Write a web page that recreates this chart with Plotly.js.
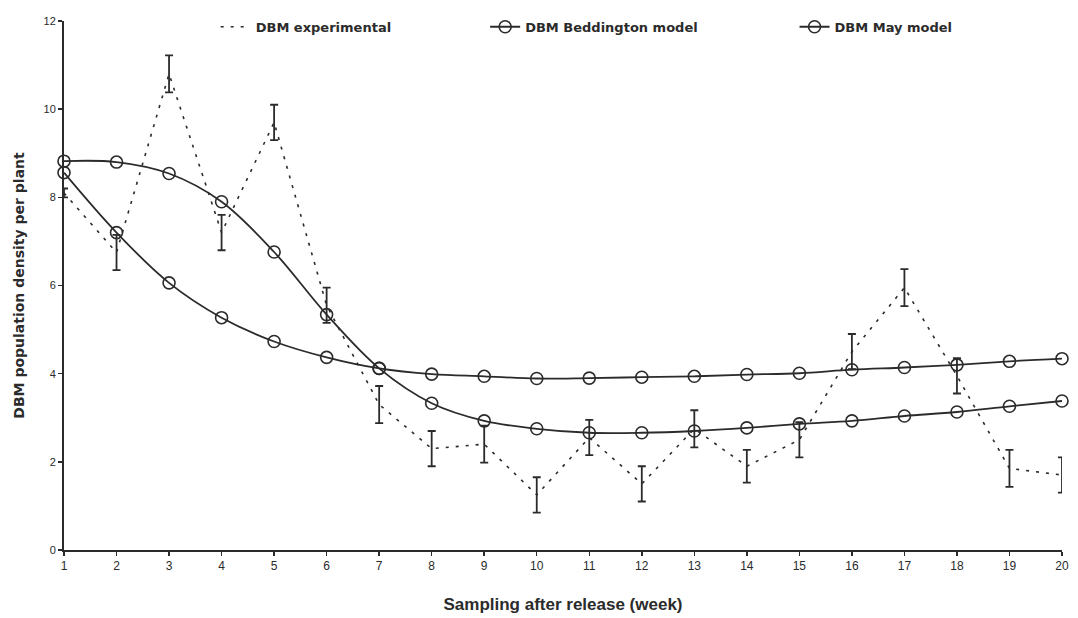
<!DOCTYPE html>
<html>
<head>
<meta charset="utf-8">
<script src="https://cdn.plot.ly/plotly-3.0.1.min.js"></script>
<style>
  html, body { margin: 0; padding: 0; background: #fff; }
  #chart { width: 1078px; height: 618px; }
</style>
</head>
<body>
<div id="chart"></div>
<script>
const weeks = [1,2,3,4,5,6,7,8,9,10,11,12,13,14,15,16,17,18,19,20];
const experimental = [8.1,6.75,10.8,7.2,9.7,5.55,3.3,2.3,2.4,1.25,2.55,1.5,2.75,1.9,2.5,4.5,5.95,3.95,1.85,1.7];
const experimentalErr = [0.1,0.4,0.42,0.4,0.4,0.4,0.42,0.4,0.42,0.4,0.4,0.4,0.42,0.37,0.4,0.4,0.42,0.4,0.42,0.4];
const beddington = [8.82,8.8,8.54,7.9,6.76,5.34,4.12,3.33,2.93,2.75,2.66,2.66,2.7,2.77,2.86,2.93,3.04,3.13,3.26,3.38];
const may = [8.56,7.2,6.06,5.27,4.73,4.37,4.12,3.99,3.94,3.89,3.9,3.92,3.94,3.98,4.01,4.09,4.14,4.2,4.28,4.34];
const yTicks = [0,2,4,6,8,10,12];

const ink = '#2b2b2b';
const fontFam = 'Liberation Sans, Arial, sans-serif';
const wideFam = 'DejaVu Sans, Liberation Sans, sans-serif';

const traces = [
  {
    x: weeks, y: experimental, name: 'DBM experimental', type: 'scatter', mode: 'lines',
    line: { color: ink, width: 1.6, dash: '3px,7px' },
    error_y: { type: 'data', array: experimentalErr, visible: true, color: ink, thickness: 1.8, width: 4 },
    cliponaxis: false, legend: 'legend'
  },
  {
    x: weeks, y: beddington, name: 'DBM Beddington model', type: 'scatter', mode: 'lines+markers',
    line: { color: ink, width: 1.8, shape: 'spline', smoothing: 1 },
    marker: { symbol: 'circle-open', size: 12, color: ink, line: { width: 1.6, color: ink } },
    cliponaxis: false, legend: 'legend2'
  },
  {
    x: weeks, y: may, name: 'DBM May model', type: 'scatter', mode: 'lines+markers',
    line: { color: ink, width: 1.8, shape: 'spline', smoothing: 1 },
    marker: { symbol: 'circle-open', size: 12, color: ink, line: { width: 1.6, color: ink } },
    cliponaxis: false, legend: 'legend3'
  }
];

function legendAt(x) {
  return {
    x: x, y: 0.989, xanchor: 'left', yanchor: 'middle', orientation: 'h',
    bgcolor: 'rgba(0,0,0,0)', borderwidth: 0,
    font: { family: wideFam, size: 13, color: ink, weight: 'bold' }
  };
}

const layout = {
  width: 1078, height: 618,
  margin: { l: 64, r: 16, t: 17, b: 68 },
  paper_bgcolor: '#ffffff', plot_bgcolor: '#ffffff',
  showlegend: true,
  legend: legendAt(0.152),
  legend2: legendAt(0.422),
  legend3: legendAt(0.732),
  xaxis: {
    range: [1, 20], tickmode: 'array', tickvals: weeks, ticktext: weeks.map(String),
    showgrid: false, zeroline: false, showline: true, linecolor: ink, linewidth: 2,
    ticks: 'outside', ticklen: 4, tickcolor: ink, tickwidth: 1.5,
    tickfont: { family: fontFam, size: 12, color: ink },
    title: { text: 'Sampling after release (week)', standoff: 26,
             font: { family: fontFam, size: 17, color: ink, weight: 'bold' } }
  },
  yaxis: {
    range: [0, 12], tickmode: 'array', tickvals: yTicks, ticktext: yTicks.map(String),
    showgrid: false, zeroline: false, showline: true, linecolor: ink, linewidth: 2,
    ticks: 'outside', ticklen: 4, tickcolor: ink, tickwidth: 1.5,
    tickfont: { family: fontFam, size: 11, color: ink },
    title: { text: 'DBM population density per plant', standoff: 16,
             font: { family: wideFam, size: 14, color: ink, weight: 'bold' } }
  }
};

Plotly.newPlot('chart', traces, layout, { displayModeBar: false, staticPlot: true });
</script>
</body>
</html>
